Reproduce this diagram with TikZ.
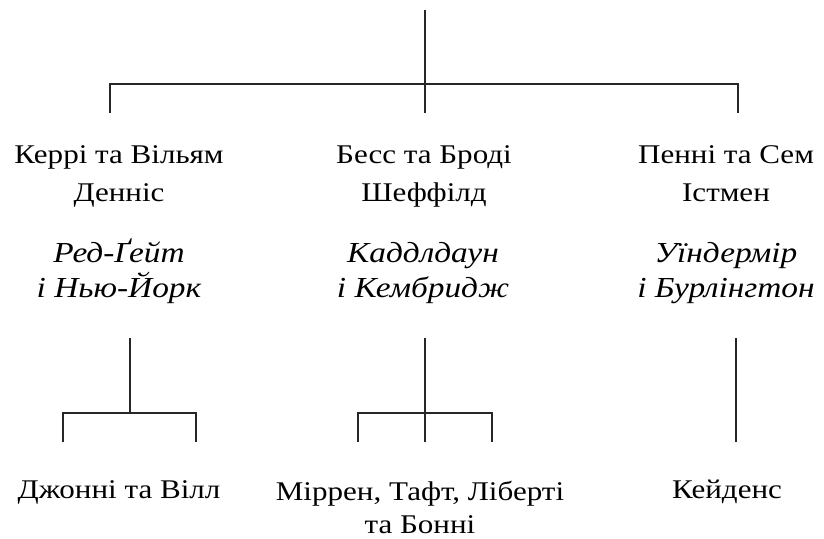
\documentclass[tikz,border=0pt]{standalone}
\usepackage{fontspec}
\setmainfont[FakeStretch=1.15]{Liberation Serif}
\begin{document}
\begin{tikzpicture}[x=1pt,y=-1pt,
  conn/.style={line width=1.3pt, draw=black!85, line join=miter},
  names/.style={align=center, inner sep=0pt, anchor=base, font=\fontsize{27}{38}\selectfont},
  places/.style={align=center, inner sep=0pt, anchor=base, font=\fontsize{29}{35}\selectfont\itshape}]
\useasboundingbox (0,0) rectangle (824,538);
% top level
\coordinate (root) at (425,10);
\coordinate (hub) at (425,113);
\coordinate (busL) at (110,84);
\coordinate (busR) at (738,84);
\coordinate (dropL) at (110,113);
\coordinate (dropR) at (738,113);
\draw[conn] (root) -- (hub);
\draw[conn] (dropL) -- (busL) -- (busR) -- (dropR);
% families (base = baseline of last line)
\node[names] (fam1) at (119,201) {Керрі та Вільям\\Денніс};
\node[names] (fam2) at (424,201) {Бесс та Броді\\Шеффілд};
\node[names] (fam3) at (726,201) {Пенні та Сем\\Істмен};
\node[places] (pl1) at (119,297) {Ред-Ґейт\\і Нью-Йорк};
\node[places] (pl2) at (423,297) {Каддлдаун\\і Кембридж};
\node[places] (pl3) at (726,297) {Уїндермір\\і Бурлінгтон};
% children connectors
\coordinate (s1) at (130,338); \coordinate (j1) at (130,413);
\coordinate (a1) at (63,442); \coordinate (b1) at (196,442);
\draw[conn] (s1) -- (j1);
\draw[conn] (a1) -- (a1 |- j1) -- (b1 |- j1) -- (b1);
\coordinate (s2) at (425,338); \coordinate (e2) at (425,442);
\coordinate (a2) at (358,442); \coordinate (b2) at (492,442);
\draw[conn] (s2) -- (e2);
\draw[conn] (a2) -- (a2 |- j1) -- (b2 |- j1) -- (b2);
\coordinate (s3) at (736,338); \coordinate (e3) at (736,442);
\draw[conn] (s3) -- (e3);
% children
\node[names] (kid1) at (119,498) {Джонні та Вілл};
\node[names, font=\fontsize{27}{33}\selectfont] (kid2) at (420,533) {Міррен, Тафт, Ліберті\\та Бонні};
\node[names] (kid3) at (727,498) {Кейденс};
\end{tikzpicture}
\end{document}
